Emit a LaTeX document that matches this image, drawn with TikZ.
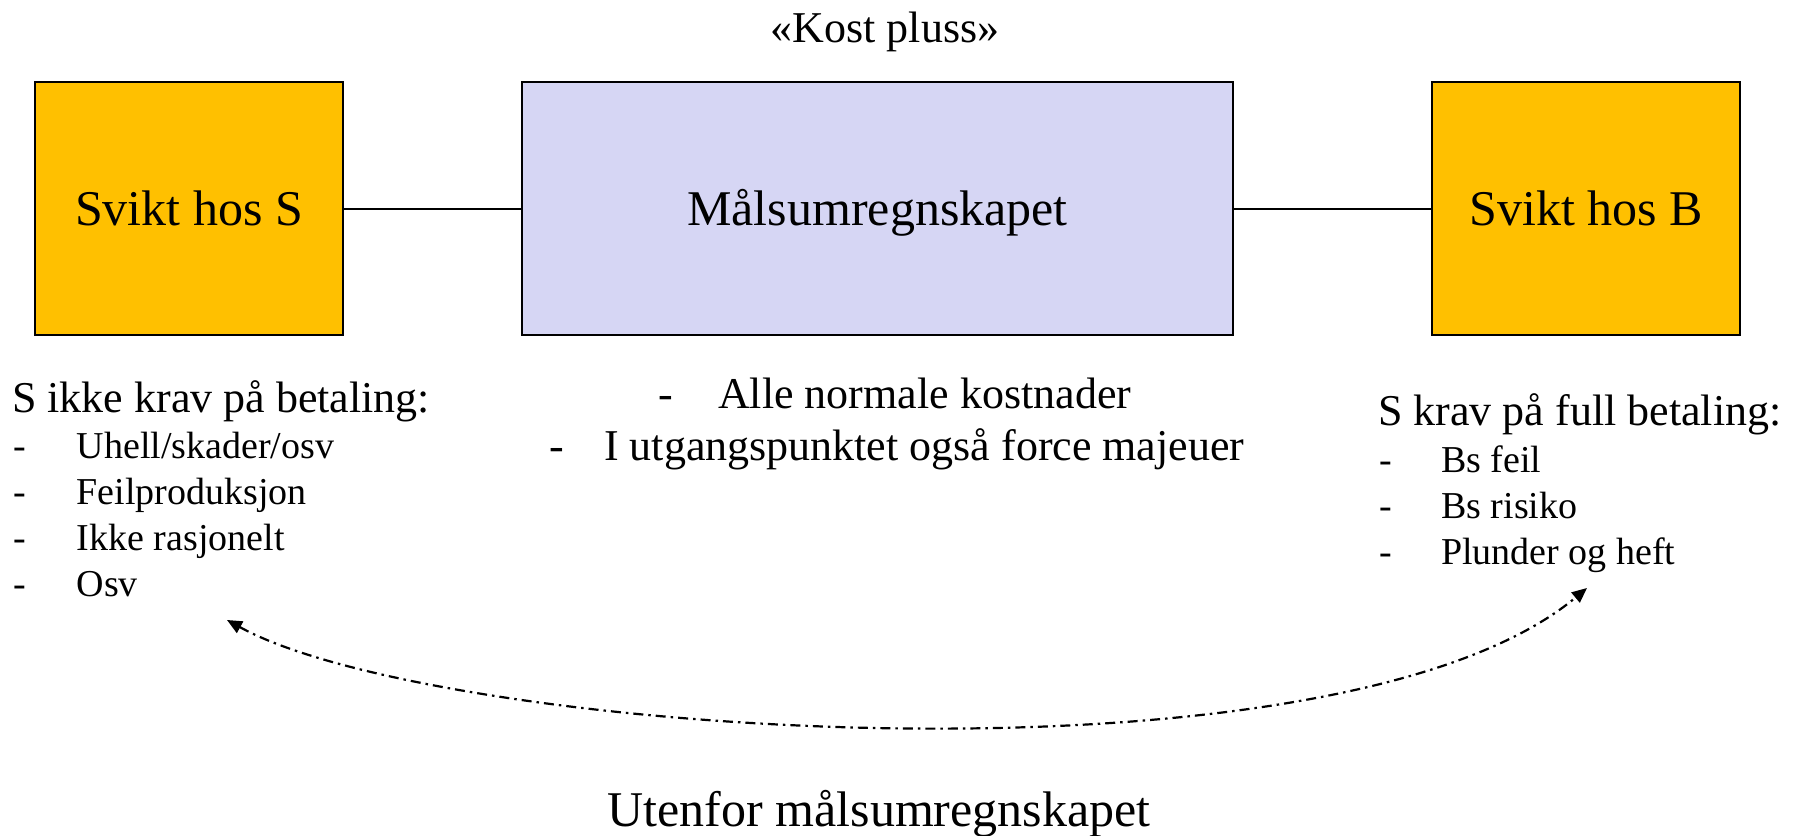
\documentclass[tikz,border=0pt]{standalone}
\usepackage{fontspec}
\setmainfont{Liberation Serif}
\usetikzlibrary{arrows.meta}
\definecolor{boxorange}{HTML}{FFC000}
\definecolor{boxlav}{HTML}{D6D6F4}
\begin{document}
\begin{tikzpicture}[x=1pt,y=-1pt,
  bigbox/.style={draw=black, line width=2.5pt, inner sep=0pt, minimum height=253pt,
     text height=34pt, text depth=0pt, font=\fontsize{50}{60}\selectfont},
  sidebox/.style={bigbox, fill=boxorange, minimum width=308pt},
  midbox/.style={bigbox, fill=boxlav, minimum width=711pt},
  conn/.style={line width=2pt},
  head/.style={font=\fontsize{44}{52}\selectfont, inner sep=0pt, anchor=base west},
  item/.style={font=\fontsize{38}{46}\selectfont, inner sep=0pt, anchor=base west},
  midline/.style={font=\fontsize{44}{52}\selectfont, inner sep=0pt, anchor=base west},
  dd/.style={line width=2.2pt, dash pattern=on 10pt off 5pt on 2.5pt off 5pt,
     {Triangle[length=15pt,width=13pt]}-{Triangle[length=15pt,width=13pt]}}
]
\useasboundingbox (0,0) rectangle (1793,835);

\node[font=\fontsize{44}{52}\selectfont, inner sep=0pt, anchor=base] (title) at (885,42) {«Kost pluss»};

\node[sidebox] (sS) at (189,208.5) {Svikt hos S};
\node[midbox] (mal) at (877.5,208.5) {Målsumregnskapet};
\node[sidebox] (sB) at (1586,208.5) {Svikt hos B};

\draw[conn] (sS.east) -- (mal.west);
\draw[conn] (mal.east) -- (sB.west);

% left list
\node[head] (lh) at (12,412) {S ikke krav på betaling:};
\node[item] (l1) at (13,458) {\makebox[63.5pt][l]{-}Uhell/skader/osv};
\node[item] (l2) at (13,504) {\makebox[63.5pt][l]{-}Feilproduksjon};
\node[item] (l3) at (13,550) {\makebox[63.5pt][l]{-}Ikke rasjonelt};
\node[item] (l4) at (13,596) {\makebox[63.5pt][l]{-}Osv};

% middle list
\node[midline] (m1) at (658,408) {\makebox[60pt][l]{-}Alle normale kostnader};
\node[midline] (m2) at (549,460) {\makebox[55pt][l]{-}I utgangspunktet også force majeuer};

% right list
\node[head] (rh) at (1378,425) {S krav på full betaling:};
\node[item] (r1) at (1379,472) {\makebox[62pt][l]{-}Bs feil};
\node[item] (r2) at (1379,518) {\makebox[62pt][l]{-}Bs risiko};
\node[item] (r3) at (1379,564) {\makebox[62pt][l]{-}Plunder og heft};

% curved arrow
\coordinate (aL) at (227,620);
\coordinate (aR) at (1587,588);
\draw[dd] (aL) .. controls (435,735) and (1334,799) .. (aR);

\node[font=\fontsize{50}{60}\selectfont, inner sep=0pt, anchor=base] (ut) at (879,826) {Utenfor målsumregnskapet};
\end{tikzpicture}
\end{document}
